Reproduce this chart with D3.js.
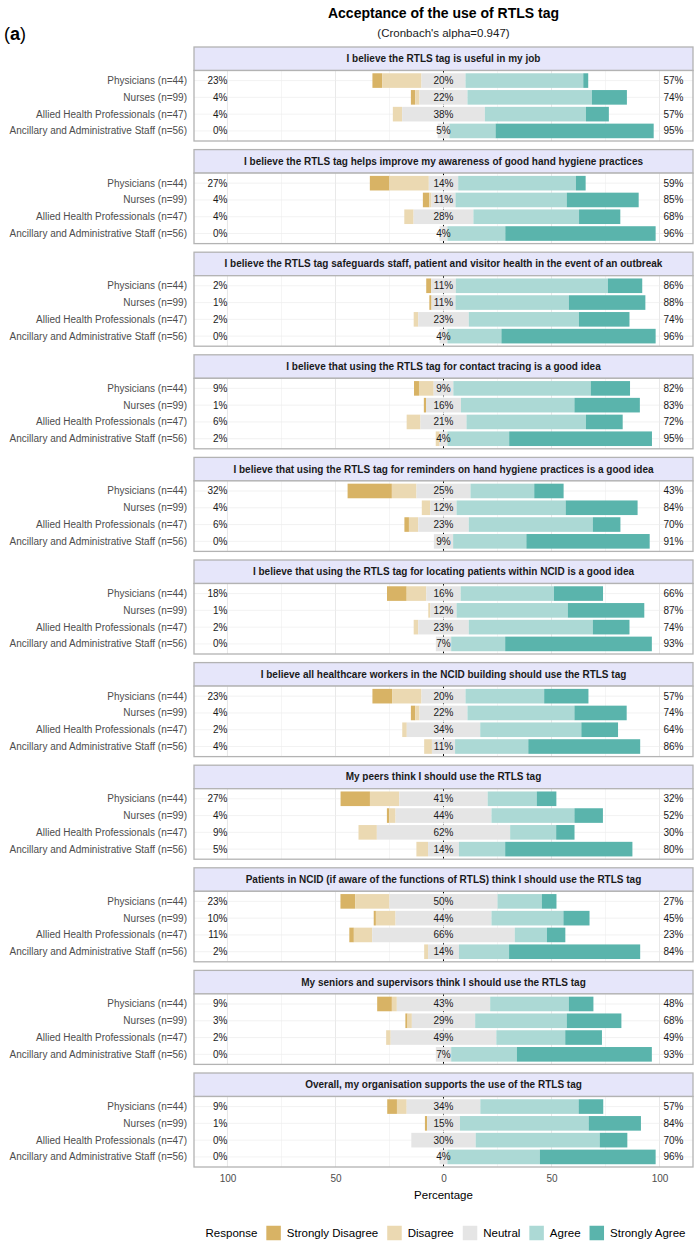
<!DOCTYPE html>
<html>
<head>
<meta charset="utf-8">
<script src="https://cdn.jsdelivr.net/npm/d3@7"></script>
<style>
    body { margin: 0; background: #fff; }
    text { font-family: "Liberation Sans", Arial, Helvetica, sans-serif; }
</style>
</head>
<body>
<div id="chart"></div>
<script>
/**
 * Data, one row per question, columns = groups
 *  */
var questions = [
    "I believe the RTLS tag is useful in my job",
    "I believe the RTLS tag helps improve my awareness of good hand hygiene practices",
    "I believe the RTLS tag safeguards staff, patient and visitor health in the event of an outbreak",
    "I believe that using the RTLS tag for contact tracing is a good idea",
    "I believe that using the RTLS tag for reminders on hand hygiene practices is a good idea",
    "I believe that using the RTLS tag for locating patients within NCID is a good idea",
    "I believe all healthcare workers in the NCID building should use the RTLS tag",
    "My peers think I should use the RTLS tag",
    "Patients in NCID (if aware of the functions of RTLS) think I should use the RTLS tag",
    "My seniors and supervisors think I should use the RTLS tag",
    "Overall, my organisation supports the use of the RTLS tag"
];

var groups = [
    "Physicians (n=44)",
    "Nurses (n=99)",
    "Allied Health Professionals (n=47)",
    "Ancillary and Administrative Staff (n=56)"
];

var responses = ["Strongly Disagree", "Disagree", "Neutral", "Agree", "Strongly Agree"];
var responseColors = ["#D8B365", "#EBD9B2", "#E5E5E5", "#ACD9D5", "#5AB4AC"];

// percentages
var stronglyDisagree = [
    [4.5, 2.0, 0, 0],
    [9.1, 3.0, 0, 0],
    [2.3, 1.0, 0, 0],
    [2.3, 1.0, 0, 0],
    [20.5, 0, 2.1, 0],
    [9.1, 0, 0, 0],
    [9.1, 2.0, 0, 0],
    [13.6, 1.0, 0, 0],
    [6.8, 1.0, 2.1, 0],
    [6.8, 1.0, 0, 0],
    [4.5, 1.0, 0, 0]
];
var disagree = [
    [18.2, 2.0, 4.3, 0],
    [18.2, 1.0, 4.3, 0],
    [0, 0, 2.1, 0],
    [6.8, 0, 6.4, 1.8],
    [11.4, 4.0, 4.3, 0],
    [9.1, 1.0, 2.1, 0],
    [13.6, 2.0, 2.1, 3.6],
    [13.6, 3.0, 8.5, 5.4],
    [15.9, 9.1, 8.5, 1.8],
    [2.3, 2.0, 2.1, 0],
    [4.5, 0, 0, 0]
];
var neutral = [
    [20.4, 22.2, 38.3, 5.4],
    [13.6, 11.1, 27.7, 3.6],
    [11.4, 11.1, 23.4, 3.6],
    [9.1, 16.2, 21.3, 3.6],
    [25.0, 12.1, 23.4, 8.9],
    [15.9, 12.1, 23.4, 7.1],
    [20.4, 22.2, 34.0, 10.7],
    [40.9, 44.4, 61.7, 14.3],
    [50.0, 44.4, 66.0, 14.3],
    [43.2, 29.3, 48.9, 7.1],
    [34.1, 15.2, 29.8, 3.6]
];
var agree = [
    [54.5, 57.6, 46.8, 21.4],
    [54.5, 51.5, 48.9, 26.8],
    [70.4, 52.5, 51.0, 25.0],
    [63.6, 52.5, 55.3, 28.6],
    [29.5, 50.5, 57.4, 33.9],
    [43.2, 51.5, 57.4, 25.0],
    [36.4, 49.5, 46.8, 33.9],
    [22.7, 38.4, 21.3, 21.4],
    [20.5, 33.3, 14.9, 23.2],
    [36.4, 42.4, 31.9, 30.4],
    [45.5, 59.6, 57.4, 42.8]
];
var stronglyAgree = [
    [2.3, 16.2, 10.6, 73.2],
    [4.5, 33.3, 19.1, 69.6],
    [15.9, 35.4, 23.4, 71.4],
    [18.2, 30.3, 17.0, 66.1],
    [13.6, 33.3, 12.8, 57.1],
    [22.7, 35.4, 17.0, 67.9],
    [20.5, 24.2, 17.0, 51.8],
    [9.1, 13.2, 8.5, 58.9],
    [6.8, 12.1, 8.5, 60.7],
    [11.4, 25.3, 17.0, 62.5],
    [11.4, 24.2, 12.8, 53.6]
];

var xTicks = [-100, -50, 0, 50, 100];
var xMinor = [-75, -25, 25, 75];

drawLikert();

function drawLikert() {
    var width = 700,
        height = 1248;
    var panelLeft = 194,
        panelRight = 693,
        panelTop = 47,
        panelStep = 102.6,
        stripH = 23.5,
        bodyH = 70.5;

    var svg = d3.select("#chart").append("svg")
        .attr("width", width)
        .attr("height", height);

    var x = d3.scaleLinear()
        .domain([-115.5, 115.5])
        .range([panelLeft, panelRight]);

    var y = d3.scalePoint()
        .domain(groups)
        .range([0, bodyH])
        .padding(0.6);
    var barH = y.step() * 0.87;

    var color = d3.scaleOrdinal().domain(responses).range(responseColors);
    var levels = [stronglyDisagree, disagree, neutral, agree, stronglyAgree];

    // titles
    var mid = (panelLeft + panelRight) / 2;
    svg.append("text")
        .attr("x", mid).attr("y", 18)
        .attr("text-anchor", "middle")
        .attr("font-size", "14px").attr("font-weight", "bold")
        .attr("fill", "#000")
        .text("Acceptance of the use of RTLS tag");
    svg.append("text")
        .attr("x", mid).attr("y", 37)
        .attr("text-anchor", "middle")
        .attr("font-size", "11.5px")
        .attr("fill", "#1a1a1a")
        .text("(Cronbach's alpha=0.947)");
    var tag = svg.append("text")
        .attr("x", 4).attr("y", 40)
        .attr("font-size", "18px")
        .attr("fill", "#000");
    tag.append("tspan").text("(");
    tag.append("tspan").attr("font-weight", "bold").text("a");
    tag.append("tspan").text(")");

    questions.forEach(function (q, qi) {
        var top = panelTop + qi * panelStep;
        var g = svg.append("g")
            .attr("transform", "translate(0," + top + ")");

        // strip
        g.append("rect")
            .attr("x", panelLeft).attr("y", 0)
            .attr("width", panelRight - panelLeft).attr("height", stripH)
            .attr("fill", "#E6E6FA")
            .attr("stroke", "#b3b3b3").attr("stroke-width", 1.3);
        g.append("text")
            .attr("x", mid).attr("y", stripH / 2)
            .attr("dy", "0.35em")
            .attr("text-anchor", "middle")
            .attr("font-size", "10px").attr("font-weight", "bold")
            .attr("fill", "#1a1a1a")
            .text(q);

        var body = g.append("g")
            .attr("transform", "translate(0," + stripH + ")");

        body.append("rect")
            .attr("x", panelLeft).attr("y", 0)
            .attr("width", panelRight - panelLeft).attr("height", bodyH)
            .attr("fill", "#fff");

        // grid
        body.selectAll(".minor")
            .data(xMinor)
            .enter().append("line")
            .attr("x1", d => x(d)).attr("x2", d => x(d))
            .attr("y1", 0).attr("y2", bodyH)
            .attr("stroke", "#e6e6e6").attr("stroke-width", 0.4);
        body.selectAll(".major")
            .data(xTicks)
            .enter().append("line")
            .attr("x1", d => x(d)).attr("x2", d => x(d))
            .attr("y1", 0).attr("y2", bodyH)
            .attr("stroke", "#dedede").attr("stroke-width", 0.7);
        body.selectAll(".hgrid")
            .data(groups)
            .enter().append("line")
            .attr("x1", panelLeft).attr("x2", panelRight)
            .attr("y1", d => y(d)).attr("y2", d => y(d))
            .attr("stroke", "#ececec").attr("stroke-width", 0.7);

        // zero line
        body.append("line")
            .attr("x1", x(0)).attr("x2", x(0))
            .attr("y1", 0).attr("y2", bodyH)
            .attr("stroke", "#000").attr("stroke-width", 1)
            .attr("stroke-dasharray", "2,2");

        // bars
        groups.forEach(function (grp, gi) {
            var vals = levels.map(function (l) { return l[qi][gi]; });
            var start = -(vals[0] + vals[1] + vals[2] / 2);
            var segs = [];
            vals.forEach(function (v, k) {
                segs.push({ r: responses[k], x0: start, x1: start + v });
                start += v;
            });

            body.selectAll(".bar-" + gi)
                .data(segs.filter(d => d.x1 > d.x0))
                .enter().append("rect")
                .attr("x", d => x(d.x0))
                .attr("width", d => x(d.x1) - x(d.x0))
                .attr("y", y(grp) - barH / 2)
                .attr("height", barH)
                .attr("fill", d => color(d.r));

            var low = Math.round(vals[0] + vals[1]),
                mids = Math.round(vals[2]),
                high = Math.round(vals[3] + vals[4]);
            var labels = [
                { x: x(-100), a: "end", t: low + "%" },
                { x: x(0), a: "middle", t: mids + "%" },
                { x: x(101.8), a: "start", t: high + "%" }
            ];
            body.selectAll(".lab-" + gi)
                .data(labels)
                .enter().append("text")
                .attr("x", d => d.x)
                .attr("y", y(grp))
                .attr("dy", "0.35em")
                .attr("text-anchor", d => d.a)
                .attr("font-size", "10px")
                .attr("fill", "#1a1a1a")
                .text(d => d.t);

            // group label on the left
            body.append("text")
                .attr("x", panelLeft - 7)
                .attr("y", y(grp))
                .attr("dy", "0.35em")
                .attr("text-anchor", "end")
                .attr("font-size", "10px")
                .attr("fill", "#4d4d4d")
                .text(grp);
        });

        body.append("rect")
            .attr("x", panelLeft).attr("y", 0)
            .attr("width", panelRight - panelLeft).attr("height", bodyH)
            .attr("fill", "none")
            .attr("stroke", "#b3b3b3").attr("stroke-width", 1.3);
    });

    // x axis below last panel
    var axisY = panelTop + (questions.length - 1) * panelStep + stripH + bodyH;
    var axis = svg.append("g")
        .attr("transform", "translate(0," + axisY + ")")
        .call(d3.axisBottom(x).tickValues(xTicks).tickSize(0).tickPadding(8)
            .tickFormat(function (d) { return Math.abs(d); }));
    axis.select(".domain").remove();
    axis.selectAll(".tick text")
        .attr("font-family", "\"Liberation Sans\", Arial, sans-serif")
        .attr("font-size", "10px")
        .attr("fill", "#4d4d4d");

    svg.append("text")
        .attr("x", x(0)).attr("y", axisY + 32)
        .attr("text-anchor", "middle")
        .attr("font-size", "11.5px")
        .attr("fill", "#000")
        .text("Percentage");

    // legend
    var legendY = 1233,
        keySize = 14.5;
    var legend = svg.append("g");
    var title = legend.append("text")
        .attr("x", 0).attr("y", legendY)
        .attr("dy", "0.35em")
        .attr("font-size", "11.5px")
        .attr("fill", "#000")
        .text("Response");
    var cx = title.node().getComputedTextLength() + 9;
    responses.forEach(function (r) {
        legend.append("rect")
            .attr("x", cx).attr("y", legendY - keySize / 2)
            .attr("width", keySize).attr("height", keySize)
            .attr("fill", color(r));
        var t = legend.append("text")
            .attr("x", cx + keySize + 6).attr("y", legendY)
            .attr("dy", "0.35em")
            .attr("font-size", "11.5px")
            .attr("fill", "#000")
            .text(r);
        cx += keySize + 6 + t.node().getComputedTextLength() + 9;
    });
    var legendW = cx - 9;
    legend.attr("transform", "translate(" + (mid - legendW / 2 + 2) + ",0)");
}
</script>
</body>
</html>
